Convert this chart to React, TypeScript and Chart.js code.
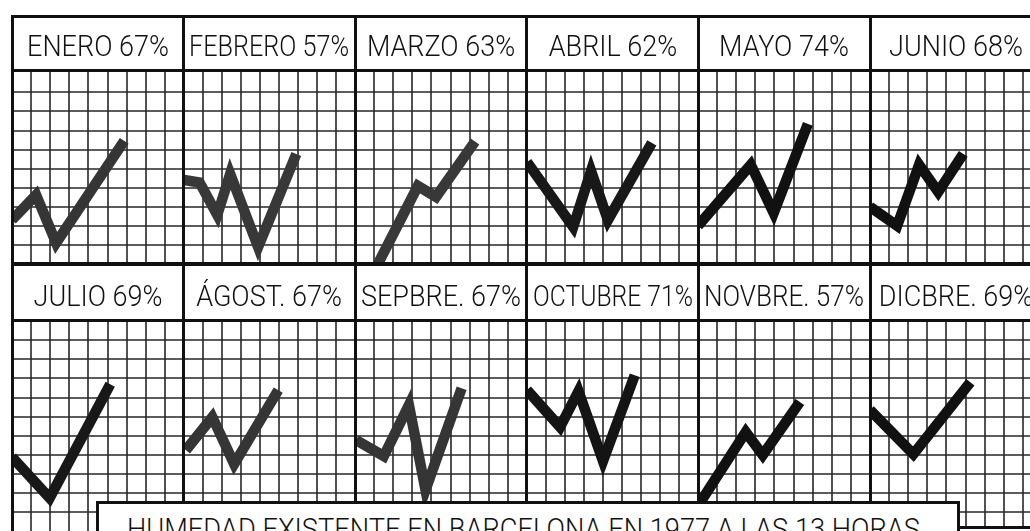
import React, { useEffect, useRef } from 'react';
import { Chart, registerables } from 'chart.js';

Chart.register(...registerables);

// ---------------- data ----------------
const months = ['ENERO', 'FEBRERO', 'MARZO', 'ABRIL', 'MAYO', 'JUNIO', 'JULIO', 'ÁGOST.', 'SEPBRE.', 'OCTUBRE', 'NOVBRE.', 'DICBRE.'];
const humidity = [67, 57, 63, 62, 74, 68, 69, 67, 67, 71, 57, 69];
const chartTitle = 'HUMEDAD EXISTENTE EN BARCELONA EN 1977 A LAS 13 HORAS';

// zig-zag vertices per month: [grid column, grid row above the panel bottom]
const enero = [[0, 2.31], [1.26, 3.62], [2.31, 1.1], [5.87, 6.46]];
const febrero = [[0, 4.41], [0.82, 4.27], [1.75, 2.57], [2.43, 4.72], [3.9, 0.89], [5.91, 5.77]];
const marzo = [[0.94, -0.5], [3.29, 4.09], [4.24, 3.52], [6.28, 6.42]];
const abril = [[0, 5.35], [2.43, 1.94], [3.37, 4.88], [4.26, 2.31], [6.57, 6.35]];
const mayo = [[0, 2.0], [2.76, 5.2], [3.96, 2.68], [5.75, 7.35]];
const junio = [[0, 3.0], [1.42, 2.0], [2.57, 5.2], [3.57, 3.78], [4.88, 5.77]];
const julio = [[0, 3.88], [1.97, 1.73], [5.14, 7.7]];
const agosto = [[0.1, 4.24], [1.49, 5.97], [2.64, 3.51], [4.96, 7.39]];
const septiembre = [[0.05, 4.77], [1.51, 3.93], [2.82, 6.6], [3.69, 2.15], [5.58, 7.49]];
const octubre = [[0, 7.39], [1.74, 5.45], [2.71, 7.33], [4.0, 3.67], [5.67, 8.17]];
const noviembre = [[0, 1.31], [2.5, 5.19], [3.39, 3.98], [5.33, 6.77]];
const diciembre = [[0, 6.35], [2.27, 4.03], [5.25, 7.8]];
const series = [enero, febrero, marzo, abril, mayo, junio, julio, agosto, septiembre, octubre, noviembre, diciembre];

// grid rulings (grid units)
const xRulings = [1, 2, 3, 4, 5, 6, 7, 8];
const yRulingsTop = [1, 2, 3, 4, 5, 6, 7, 8, 9];
const yRulingsBottom = [1, 2, 3, 4, 5, 6, 7, 8, 9, 10];

// ---------------- styles / layout ----------------
const lineShades = ['#353535', '#383838', '#383838', '#181818', '#111111', '#111111', '#181818', '#353535', '#353535', '#141414', '#111111', '#111111'];
const INK = '#111111';
const GRID = '#262626';
const X0 = 12;
const COL_W = 171.6;
const CELL_H = 19.07;
const FONT = '300 30px Roboto, "Noto Sans", sans-serif';
const rows = [
  { gridTop: 71, gridBottom: 264, capTop: 34.5, ys: yRulingsTop },
  { gridTop: 321, gridBottom: 531, capTop: 285, ys: yRulingsBottom },
];
const colLeft = (c: number) => X0 + c * COL_W;

function measure(text: string): number {
  const cv = document.createElement('canvas');
  const ctx = cv.getContext('2d');
  if (!ctx) return text.length * 16;
  ctx.font = FONT;
  return ctx.measureText(text).width;
}

const paperGrid = {
  id: 'paperGrid',
  beforeDatasetsDraw(chart: any, _args: any, opts: any) {
    const { ctx, chartArea, scales } = chart;
    ctx.save();
    ctx.strokeStyle = opts.color;
    ctx.lineWidth = opts.width;
    for (const v of opts.xs) {
      const px = Math.round(scales.x.getPixelForValue(v));
      ctx.beginPath();
      ctx.moveTo(px, chartArea.top);
      ctx.lineTo(px, chartArea.bottom);
      ctx.stroke();
    }
    for (const v of opts.ys) {
      const py = Math.round(scales.y.getPixelForValue(v));
      ctx.beginPath();
      ctx.moveTo(chartArea.left, py);
      ctx.lineTo(chartArea.right, py);
      ctx.stroke();
    }
    ctx.restore();
  },
};

function makeConfig(points: number[][], color: string, yMax: number, ys: number[]): any {
  return {
    type: 'line',
    data: {
      datasets: [
        {
          data: points.map(([x, y]) => ({ x, y })),
          borderColor: color,
          borderWidth: 10.5,
          pointRadius: 0,
          pointHoverRadius: 0,
          tension: 0,
          fill: false,
          borderJoinStyle: 'miter',
          borderCapStyle: 'butt',
        },
      ],
    },
    plugins: [paperGrid],
    options: {
      animation: false,
      responsive: false,
      events: [],
      layout: { padding: 0, autoPadding: false },
      plugins: {
        legend: { display: false },
        tooltip: { enabled: false },
        title: { display: false },
        paperGrid: { xs: xRulings, ys, color: GRID, width: 1.6 },
      },
      scales: {
        x: {
          type: 'linear',
          bounds: 'data',
          min: 0,
          max: 9,
          ticks: { display: false },
          grid: { display: false, drawTicks: false },
          border: { display: false },
        },
        y: {
          type: 'linear',
          bounds: 'data',
          min: 0,
          max: yMax,
          ticks: { display: false },
          grid: { display: false, drawTicks: false },
          border: { display: false },
        },
      },
    },
  };
}

export default function App() {
  const canvasRefs = useRef<(HTMLCanvasElement | null)[]>([]);

  useEffect(() => {
    const charts = series.map((pts, i) => {
      const cv = canvasRefs.current[i];
      if (!cv) return null;
      const r = rows[Math.floor(i / 6)];
      const yMax = (r.gridBottom - r.gridTop) / CELL_H;
      return new Chart(cv, makeConfig(pts, lineShades[i], yMax, r.ys));
    });
    return () => charts.forEach((c) => c && c.destroy());
  }, []);

  const panels = series.map((_, i) => {
    const col = i % 6;
    const r = rows[Math.floor(i / 6)];
    const left = Math.round(colLeft(col));
    const right = Math.round(colLeft(col + 1));
    const w = right - left;
    const h = r.gridBottom - r.gridTop;
    return (
      <canvas
        key={'c' + i}
        ref={(el) => {
          canvasRefs.current[i] = el;
        }}
        width={w}
        height={h}
        style={{ position: 'absolute', left, top: r.gridTop, width: w, height: h, zIndex: 0 }}
      />
    );
  });

  const headers = months.map((m, i) => {
    const col = i % 6;
    const r = rows[Math.floor(i / 6)];
    const label = `${m} ${humidity[i]}%`;
    const s = Math.min(0.9, 160 / measure(label));
    return (
      <div
        key={'h' + i}
        style={{
          position: 'absolute',
          left: colLeft(col),
          width: COL_W,
          top: r.capTop - 3.9,
          height: 30,
          zIndex: 3,
        }}
      >
        <span
          style={{
            position: 'absolute',
            left: '50%',
            top: 0,
            whiteSpace: 'nowrap',
            font: FONT,
            lineHeight: '30px',
            color: INK,
            transform: `translateX(-50%) scaleX(${s})`,
            transformOrigin: 'center',
          }}
        >
          {label}
        </span>
      </div>
    );
  });

  const bar = (key: string, left: number, top: number, width: number, height: number, color = INK, z = 1) => (
    <div key={key} style={{ position: 'absolute', left, top, width, height, background: color, zIndex: z }} />
  );

  const lines = [
    bar('top', 10.5, 14.5, 1030, 3.5),
    bar('left', 10.5, 14.5, 3.5, 520),
    ...[1, 2, 3, 4, 5].map((c) => bar('v' + c, colLeft(c) - 1.5, 14.5, 3, 520)),
    bar('h1', 10.5, 69, 1030, 3),
    bar('h2', 10.5, 262.2, 1030, 3.6),
    bar('h3', 10.5, 319.3, 1030, 3.2),
    bar('dicBottom', 956, 525.5, 80, 3),
    bar('dicWhite', 956, 528.5, 80, 5, '#ffffff'),
  ];

  const titleW = measure(chartTitle);
  const titleScale = 793 / titleW;

  return (
    <div
      style={{
        position: 'fixed',
        left: 0,
        top: 0,
        width: 1030,
        height: 531,
        overflow: 'hidden',
        background: '#ffffff',
      }}
    >
      {panels}
      {lines}
      {headers}
      <div
        style={{
          position: 'absolute',
          left: 96,
          top: 500.5,
          width: 864,
          height: 60,
          boxSizing: 'border-box',
          border: `3px solid ${INK}`,
          background: '#ffffff',
          zIndex: 4,
        }}
      />
      <div
        style={{
          position: 'absolute',
          left: 127,
          top: 514,
          font: FONT,
          lineHeight: '30px',
          color: INK,
          whiteSpace: 'nowrap',
          transform: `scaleX(${titleScale})`,
          transformOrigin: 'left center',
          zIndex: 5,
        }}
      >
        {chartTitle}
      </div>
    </div>
  );
}
